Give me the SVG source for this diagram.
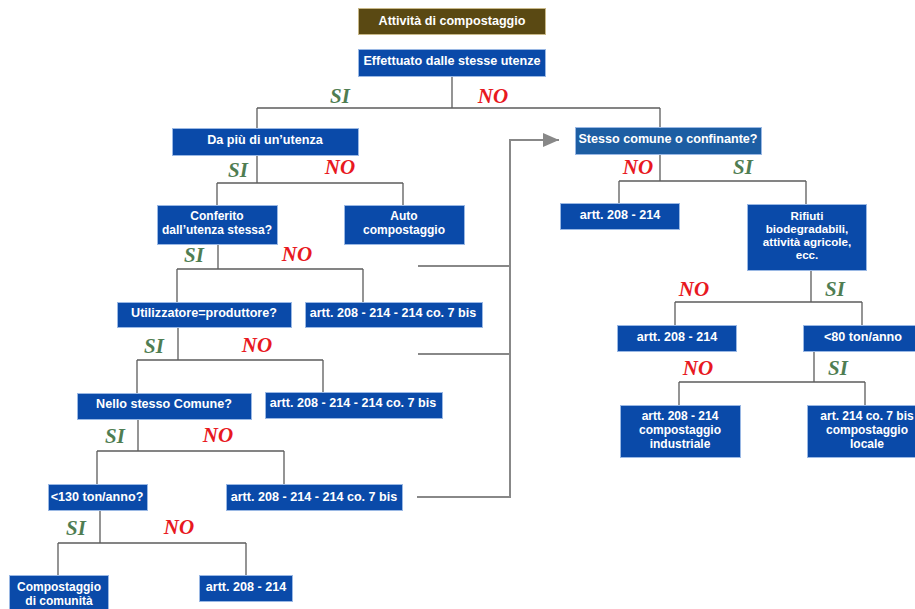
<svg xmlns="http://www.w3.org/2000/svg" width="915" height="609" viewBox="0 0 915 609">
<defs>
<style>
.b{fill:#0a4aa9;stroke:#9ab8e4;stroke-width:1}
.b2{fill:#1d5ea3;stroke:#9ab8e4;stroke-width:1}
.t{fill:#ffffff;font-family:"Liberation Sans",Arial,sans-serif;font-weight:bold;font-size:12px;text-anchor:middle}
.l{font-size:12.6px}
.s{font-size:11.6px}
.si{fill:#4f7d52;font-family:"Liberation Serif",serif;font-weight:bold;font-style:italic;font-size:21px;text-anchor:middle}
.no{fill:#e8191f;font-family:"Liberation Serif",serif;font-weight:bold;font-style:italic;font-size:21px;text-anchor:middle}
.c{fill:none;stroke:#5c5c5c;stroke-width:1.3}
.g{fill:none;stroke:#888888;stroke-width:2}
</style>
<marker id="ah" markerWidth="16" markerHeight="14" refX="16" refY="7" orient="auto" markerUnits="userSpaceOnUse">
<path d="M0,0 L16,7 L0,14 Z" fill="#888888"/>
</marker>
</defs>
<rect width="915" height="609" fill="#ffffff"/>

<g id="connectors">
<path class="c" d="M452,76 V108 M257,108 H660 M257,108 V128 M660,108 V127"/>
<path class="c" d="M257,155 V183 M217,183 H403 M217,183 V205 M403,183 V205"/>
<path class="c" d="M218,244 V269 M177,269 H363 M177,269 V302 M363,269 V302"/>
<path class="c" d="M178,327 V360 M137,360 H323 M137,360 V393 M323,360 V392"/>
<path class="c" d="M138,419 V451 M97,451 H284 M97,451 V484 M284,451 V484"/>
<path class="c" d="M100,510 V543 M58,543 H246 M58,543 V575 M246,543 V575"/>
<path class="c" d="M660,154 V181 M619,181 H806 M619,181 V203 M806,181 V204"/>
<path class="c" d="M811,270 V302 M675,302 H862 M675,302 V325 M862,302 V325"/>
<path class="c" d="M814,351 V382 M679,382 H865 M679,382 V405 M865,382 V405"/>
<path class="g" d="M418,266 H510 M418,354 H510 M417,497 H510 V140 H559" marker-end="url(#ah)"/>
</g>

<g id="title"><rect x="358.5" y="8.5" width="187" height="26" fill="#5a4913" stroke="#c8b888" stroke-width="1"/><text class="t l" x="452" y="25">Attività di compostaggio</text></g>
<g id="effettuato"><rect class="b" x="358.5" y="49.5" width="187" height="27"/><text class="t l" x="452" y="65">Effettuato dalle stesse utenze</text></g>
<g id="dapiu"><rect class="b" x="172.5" y="128.5" width="186" height="27"/><text class="t l" x="265" y="144">Da più di un’utenza</text></g>
<g id="conferito"><rect class="b" x="157.5" y="205.5" width="120" height="39"/><text class="t" x="217" y="220">Conferito</text><text class="t" x="217" y="234">dall’utenza stessa?</text></g>
<g id="auto"><rect class="b" x="344.5" y="205.5" width="120" height="39"/><text class="t" x="404" y="220">Auto</text><text class="t" x="404" y="234">compostaggio</text></g>
<g id="utilizzatore"><rect class="b" x="117.5" y="302.5" width="174" height="25"/><text class="t l" x="204" y="317">Utilizzatore=produttore?</text></g>
<g id="art1"><rect class="b" x="305.5" y="302.5" width="177" height="25"/><text class="t l" x="393" y="317">artt. 208 - 214 - 214 co. 7 bis</text></g>
<g id="nello"><rect class="b" x="77.5" y="393.5" width="174" height="26"/><text class="t l" x="164" y="408">Nello stesso Comune?</text></g>
<g id="art2"><rect class="b" x="265.5" y="392.5" width="177" height="26"/><text class="t l" x="353" y="407">artt. 208 - 214 - 214 co. 7 bis</text></g>
<g id="ton130"><rect class="b" x="48.5" y="484.5" width="99" height="26"/><text class="t l" x="97" y="501">&lt;130 ton/anno?</text></g>
<g id="art3"><rect class="b" x="226.5" y="484.5" width="176" height="26"/><text class="t l" x="314" y="501">artt. 208 - 214 - 214 co. 7 bis</text></g>
<g id="comunita"><rect class="b" x="9.5" y="575.5" width="99" height="40"/><text class="t" x="59" y="591">Compostaggio</text><text class="t" x="59" y="605">di comunità</text></g>
<g id="art4"><rect class="b" x="199.5" y="575.5" width="93" height="26"/><text class="t l" x="246" y="591">artt. 208 - 214</text></g>
<g id="stesso"><rect class="b2" x="575.5" y="127.5" width="186" height="27"/><text class="t l" x="668" y="143">Stesso comune o confinante?</text></g>
<g id="art5"><rect class="b" x="560.5" y="203.5" width="119" height="26"/><text class="t l" x="620" y="219">artt. 208 - 214</text></g>
<g id="rifiuti"><rect class="b" x="747.5" y="204.5" width="119" height="66"/><text class="t s" x="807" y="220">Rifiuti</text><text class="t s" x="807" y="233">biodegradabili,</text><text class="t s" x="807" y="246">attività agricole,</text><text class="t s" x="807" y="259">ecc.</text></g>
<g id="art6"><rect class="b" x="617.5" y="325.5" width="119" height="26"/><text class="t l" x="677" y="341">artt. 208 - 214</text></g>
<g id="ton80"><rect class="b" x="803.5" y="325.5" width="120" height="26"/><text class="t l" x="863" y="341">&lt;80 ton/anno</text></g>
<g id="industriale"><rect class="b" x="620.5" y="405.5" width="120" height="52"/><text class="t" x="680" y="420">artt. 208 - 214</text><text class="t" x="680" y="434">compostaggio</text><text class="t" x="680" y="448">industriale</text></g>
<g id="locale"><rect class="b" x="807.5" y="405.5" width="120" height="52"/><text class="t" x="867" y="420">art. 214 co. 7 bis</text><text class="t" x="867" y="434">compostaggio</text><text class="t" x="867" y="448">locale</text></g>

<g id="labels">
<text class="si" x="340" y="103">SI</text><text class="no" x="493" y="103">NO</text>
<text class="si" x="238" y="177">SI</text><text class="no" x="340" y="174">NO</text>
<text class="si" x="194" y="262">SI</text><text class="no" x="297" y="261">NO</text>
<text class="si" x="154" y="353">SI</text><text class="no" x="257" y="352">NO</text>
<text class="si" x="115" y="443">SI</text><text class="no" x="218" y="442">NO</text>
<text class="si" x="76" y="535">SI</text><text class="no" x="179" y="534">NO</text>
<text class="no" x="638" y="174">NO</text><text class="si" x="743" y="174">SI</text>
<text class="no" x="694" y="296">NO</text><text class="si" x="835" y="296">SI</text>
<text class="no" x="698" y="375">NO</text><text class="si" x="838" y="375">SI</text>
</g>
</svg>
